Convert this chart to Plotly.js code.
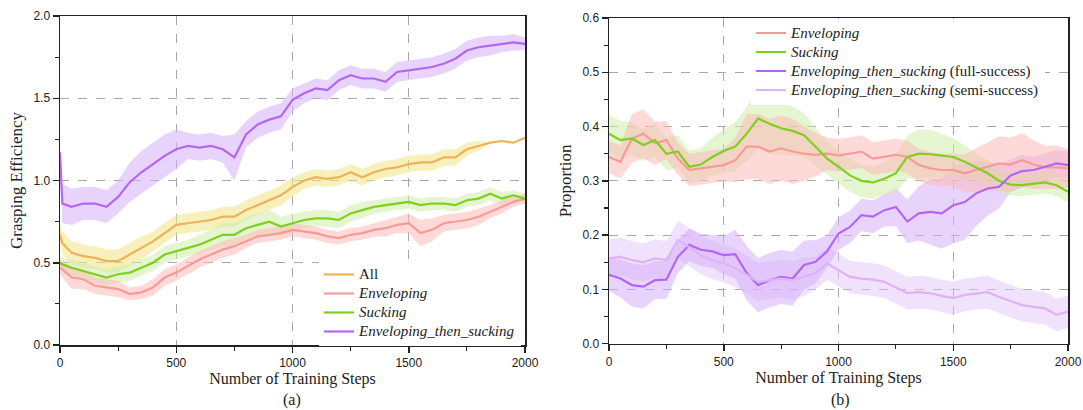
<!DOCTYPE html>
<html>
<head>
<meta charset="utf-8">
<script src="https://cdn.plot.ly/plotly-3.0.1.min.js"></script>
<style>html,body{margin:0;padding:0;background:#fff;}#chart{width:1083px;height:410px;}</style>
</head>
<body>
<div id="chart"></div>
<script>
// ---------- Panel (a): Grasping Efficiency ----------
const stepsA = [0,10,50,100,150,200,250,300,350,400,450,500,550,600,650,700,750,800,850,900,950,1000,
  1050,1100,1150,1200,1250,1300,1350,1400,1450,1500,1550,1600,1650,1700,1750,1800,1850,1900,1950,2000];

const allA = [0.67,0.62,0.56,0.54,0.53,0.51,0.51,0.55,0.59,0.63,0.68,0.73,0.74,0.75,0.76,0.78,0.78,0.82,0.85,0.88,0.91,0.96,
  1.00,1.02,1.01,1.02,1.05,1.02,1.05,1.07,1.08,1.10,1.11,1.11,1.14,1.14,1.19,1.21,1.23,1.24,1.23,1.26];
const allBandA = [0.06,0.07,0.07,0.07,0.07,0.07,0.07,0.07,0.07,0.06,0.06,0.06,0.06,0.06,0.06,0.06,0.06,0.06,0.06,0.06,0.06,0.06,
  0.05,0.05,0.05,0.05,0.05,0.05,0.05,0.05,0.05,0.05,0.05,0.05,0.05,0.05,0.04,0.03,0,0,0,0];

const envA = [0.47,0.46,0.41,0.40,0.36,0.35,0.34,0.31,0.32,0.35,0.41,0.44,0.48,0.52,0.55,0.58,0.60,0.63,0.66,0.67,0.68,0.70,
  0.69,0.68,0.66,0.65,0.67,0.68,0.70,0.71,0.73,0.74,0.68,0.70,0.74,0.75,0.76,0.78,0.81,0.84,0.87,0.89];
const envBandA = [0.04,0.05,0.07,0.06,0.05,0.05,0.05,0.04,0.04,0.05,0.05,0.05,0.05,0.05,0.05,0.05,0.05,0.04,0.04,0.04,0.04,0.04,
  0.04,0.04,0.04,0.04,0.04,0.04,0.04,0.05,0.05,0.06,0.08,0.07,0.05,0.05,0.05,0.05,0.04,0.04,0.03,0.03];

const suckA = [0.50,0.49,0.47,0.45,0.43,0.41,0.43,0.44,0.47,0.50,0.55,0.57,0.59,0.61,0.64,0.67,0.67,0.71,0.73,0.75,0.72,0.74,
  0.76,0.77,0.77,0.76,0.80,0.82,0.84,0.85,0.86,0.87,0.85,0.86,0.86,0.85,0.88,0.89,0.92,0.89,0.91,0.89];
const suckBandA = [0.04,0.04,0.05,0.05,0.05,0.05,0.05,0.05,0.05,0.05,0.05,0.05,0.05,0.06,0.06,0.07,0.07,0.07,0.07,0.07,0.06,0.06,
  0.05,0.05,0.05,0.05,0.05,0.05,0.04,0.04,0.04,0.04,0.04,0.04,0.04,0.04,0.04,0.04,0.04,0.04,0.03,0.03];

const etsA = [1.17,0.86,0.84,0.86,0.86,0.84,0.90,0.99,1.05,1.10,1.15,1.19,1.21,1.20,1.21,1.19,1.14,1.28,1.34,1.37,1.39,1.49,
  1.53,1.56,1.55,1.61,1.64,1.62,1.62,1.60,1.66,1.67,1.68,1.69,1.71,1.74,1.79,1.81,1.82,1.83,1.84,1.83];
const etsBandA = [0.05,0.12,0.11,0.1,0.1,0.1,0.1,0.12,0.13,0.13,0.13,0.12,0.08,0.08,0.08,0.08,0.14,0.08,0.08,0.08,0.08,0.07,
  0.06,0.06,0.06,0.06,0.06,0.06,0.06,0.06,0.06,0.06,0.06,0.06,0.06,0.06,0.06,0.06,0.06,0.05,0.05,0.04];

// ---------- Panel (b): Proportion ----------
const stepsB = [0,50,100,150,200,250,300,350,400,450,500,550,600,650,700,750,800,850,900,950,1000,
  1050,1100,1150,1200,1250,1300,1350,1400,1450,1500,1550,1600,1650,1700,1750,1800,1850,1900,1950,2000];

const envB = [0.344,0.335,0.378,0.387,0.369,0.375,0.341,0.320,0.323,0.326,0.329,0.338,0.363,0.363,0.354,0.360,0.354,0.350,0.348,0.350,0.347,
  0.350,0.354,0.341,0.344,0.348,0.344,0.329,0.323,0.320,0.320,0.314,0.320,0.326,0.332,0.330,0.338,0.330,0.325,0.325,0.323];
const envBandB = [0.03,0.03,0.045,0.045,0.04,0.035,0.03,0.03,0.03,0.03,0.03,0.04,0.06,0.06,0.06,0.06,0.06,0.05,0.04,0.03,0.03,
  0.03,0.03,0.03,0.03,0.03,0.03,0.03,0.03,0.03,0.03,0.035,0.04,0.045,0.05,0.05,0.05,0.045,0.04,0.04,0.035];

const suckB = [0.387,0.375,0.378,0.366,0.375,0.350,0.354,0.326,0.330,0.344,0.355,0.363,0.387,0.415,0.405,0.397,0.392,0.384,0.363,0.341,0.326,
  0.310,0.300,0.297,0.304,0.314,0.344,0.350,0.349,0.346,0.344,0.335,0.325,0.314,0.300,0.293,0.292,0.295,0.297,0.292,0.280];
const suckBandB = [0.035,0.035,0.03,0.03,0.03,0.03,0.03,0.03,0.03,0.035,0.04,0.045,0.05,0.055,0.055,0.05,0.045,0.04,0.035,0.03,0.03,
  0.03,0.03,0.03,0.03,0.035,0.04,0.045,0.045,0.04,0.035,0.03,0.025,0.025,0.02,0.02,0.02,0.02,0.02,0.02,0.02];

const etsFullB = [0.127,0.120,0.108,0.105,0.117,0.118,0.160,0.182,0.173,0.170,0.163,0.165,0.130,0.108,0.117,0.123,0.120,0.145,0.151,0.170,0.203,
  0.215,0.237,0.234,0.246,0.252,0.225,0.240,0.243,0.240,0.255,0.261,0.277,0.286,0.289,0.310,0.318,0.320,0.326,0.332,0.329];
const etsFullBandB = [0.03,0.035,0.04,0.04,0.035,0.035,0.03,0.03,0.03,0.03,0.035,0.045,0.05,0.05,0.05,0.05,0.05,0.045,0.04,0.03,0.03,
  0.03,0.03,0.03,0.03,0.035,0.04,0.05,0.06,0.065,0.07,0.07,0.06,0.05,0.04,0.03,0.03,0.025,0.025,0.025,0.025];

const etsSemiB = [0.157,0.160,0.154,0.150,0.157,0.154,0.191,0.178,0.163,0.154,0.148,0.139,0.127,0.114,0.117,0.120,0.117,0.123,0.130,0.148,0.136,
  0.123,0.120,0.118,0.114,0.104,0.093,0.095,0.093,0.088,0.084,0.090,0.093,0.095,0.086,0.078,0.071,0.068,0.065,0.053,0.059];
const etsSemiBandB = [0.035,0.035,0.035,0.035,0.035,0.035,0.035,0.035,0.035,0.035,0.035,0.035,0.035,0.035,0.035,0.035,0.035,0.035,0.03,0.03,0.03,
  0.03,0.03,0.03,0.03,0.03,0.03,0.03,0.03,0.03,0.03,0.03,0.03,0.03,0.03,0.03,0.03,0.03,0.03,0.03,0.03];

const namesA = ['All', '<i>Enveloping</i>', '<i>Sucking</i>', '<i>Enveloping_then_sucking</i>'];
const namesB = ['<i>Enveloping</i>', '<i>Sucking</i>', '<i>Enveloping_then_sucking</i> (full-success)', '<i>Enveloping_then_sucking</i> (semi-success)'];

// ---------- styling ----------
const C = {
  all:  {line:'#ECB259', band:'rgba(240,228,130,0.55)'},
  env:  {line:'#F89A98', band:'rgba(251,185,183,0.55)'},
  suck: {line:'#7DD11E', band:'rgba(205,236,170,0.55)'},
  ets:  {line:'#B266F2', band:'rgba(214,175,250,0.55)'},
  semi: {line:'#DDB3F6', band:'rgba(226,195,250,0.5)'}
};

function big(txt, px) { return '<span style="font-size:' + px + 'px">' + txt + '</span>'; }

function band(x, y, hw, color, xa, ya) {
  const up = y.map((v,i)=>v+hw[i]);
  const lo = y.map((v,i)=>v-hw[i]);
  return {x: x.concat(x.slice().reverse()), y: up.concat(lo.slice().reverse()),
    type:'scatter', mode:'lines', fill:'toself', fillcolor:color, line:{width:0},
    hoverinfo:'skip', showlegend:false, xaxis:xa, yaxis:ya};
}
function line(x, y, name, color, xa, ya, lg) {
  return {x:x, y:y, name:name, type:'scatter', mode:'lines', line:{color:color, width:2.2},
    xaxis:xa, yaxis:ya, legend:lg};
}

const traces = [
  band(stepsA, etsA, etsBandA, C.ets.band, 'x', 'y'),
  band(stepsA, allA, allBandA, C.all.band, 'x', 'y'),
  band(stepsA, suckA, suckBandA, C.suck.band, 'x', 'y'),
  band(stepsA, envA, envBandA, C.env.band, 'x', 'y'),
  line(stepsA, allA, big(namesA[0],15), C.all.line, 'x', 'y', 'legend'),
  line(stepsA, envA, big(namesA[1],15), C.env.line, 'x', 'y', 'legend'),
  line(stepsA, suckA, big(namesA[2],15), C.suck.line, 'x', 'y', 'legend'),
  line(stepsA, etsA, big(namesA[3],15), C.ets.line, 'x', 'y', 'legend'),

  band(stepsB, etsSemiB, etsSemiBandB, C.semi.band, 'x2', 'y2'),
  band(stepsB, etsFullB, etsFullBandB, C.ets.band, 'x2', 'y2'),
  band(stepsB, suckB, suckBandB, C.suck.band, 'x2', 'y2'),
  band(stepsB, envB, envBandB, C.env.band, 'x2', 'y2'),
  line(stepsB, envB, big(namesB[0],15), C.env.line, 'x2', 'y2', 'legend2'),
  line(stepsB, suckB, big(namesB[1],15), C.suck.line, 'x2', 'y2', 'legend2'),
  line(stepsB, etsFullB, big(namesB[2],15), C.ets.line, 'x2', 'y2', 'legend2'),
  line(stepsB, etsSemiB, big(namesB[3],15), C.semi.line, 'x2', 'y2', 'legend2')
];

const serif = 'Liberation Serif, Times New Roman, serif';
const sans = 'Liberation Sans, Arial, sans-serif';
const W = 1083, H = 410;

function xaxis(domain, anchor) {
  return {domain: domain, anchor: anchor, range:[0,2000], tickvals:[0,500,1000,1500,2000],
    ticks:'outside', ticklen:6, tickwidth:1.5, tickcolor:'#222',
    minor:{ticks:'outside', ticklen:4, tickwidth:1.2, tickcolor:'#222', dtick:250, showgrid:false},
    showline:true, linecolor:'#222', linewidth:1.5, mirror:true,
    showgrid:true, gridcolor:'#a8a8a8', griddash:'dash', gridwidth:1,
    zeroline:false, tickfont:{family:sans, size:12, color:'#222'},
    title:{text:'Number of Training Steps', font:{family:serif, size:16, color:'#222'}, standoff:4}};
}
function yaxis(domain, anchor, range, dtick, minor, title) {
  return {domain: domain, anchor: anchor, range: range, dtick: dtick, tick0:0,
    ticks:'outside', ticklen:6, tickwidth:1.5, tickcolor:'#222',
    minor:{ticks:'outside', ticklen:4, tickwidth:1.2, tickcolor:'#222', dtick:minor, showgrid:false},
    showline:true, linecolor:'#222', linewidth:1.5, mirror:true,
    showgrid:true, gridcolor:'#a8a8a8', griddash:'dash', gridwidth:1,
    zeroline:false, tickformat:'.1f', tickfont:{family:sans, size:12, color:'#222'},
    title:{text:title, font:{family:serif, size:17, color:'#222'}, standoff:6}};
}

const layout = {
  width: W, height: H, margin:{l:0, r:0, t:0, b:0},
  paper_bgcolor:'#fff', plot_bgcolor:'#fff',
  xaxis: xaxis([60/W, 525/W], 'y'),
  yaxis: yaxis([65/H, 394/H], 'x', [0,2.0], 0.5, 0.25, 'Grasping Efficiency'),
  xaxis2: xaxis([609/W, 1068/W], 'y2'),
  yaxis2: yaxis([66.3/H, 392/H], 'x2', [0,0.6], 0.1, 0.05, 'Proportion'),
  legend: {x: 319/W, y: 1 - 260/H, xanchor:'left', yanchor:'top', bgcolor:'#ffffff',
    font:{family:serif, size:12, color:'#222'}, tracegroupgap:0, itemwidth:30},
  legend2: {x: 751/W, y: 1 - 18.5/H, xanchor:'left', yanchor:'top', bgcolor:'#ffffff',
    font:{family:serif, size:12, color:'#222'}, tracegroupgap:0, itemwidth:30},
  annotations: [
    {text:'(a)', xref:'paper', yref:'paper', x:292/W, y:1-400/H, xanchor:'center', yanchor:'middle', showarrow:false,
      font:{family:serif, size:16, color:'#222'}},
    {text:'(b)', xref:'paper', yref:'paper', x:840/W, y:1-400/H, xanchor:'center', yanchor:'middle', showarrow:false,
      font:{family:serif, size:16, color:'#222'}}
  ],
  showlegend:true
};

Plotly.newPlot('chart', traces, layout, {displayModeBar:false, staticPlot:true});
</script>
</body>
</html>
